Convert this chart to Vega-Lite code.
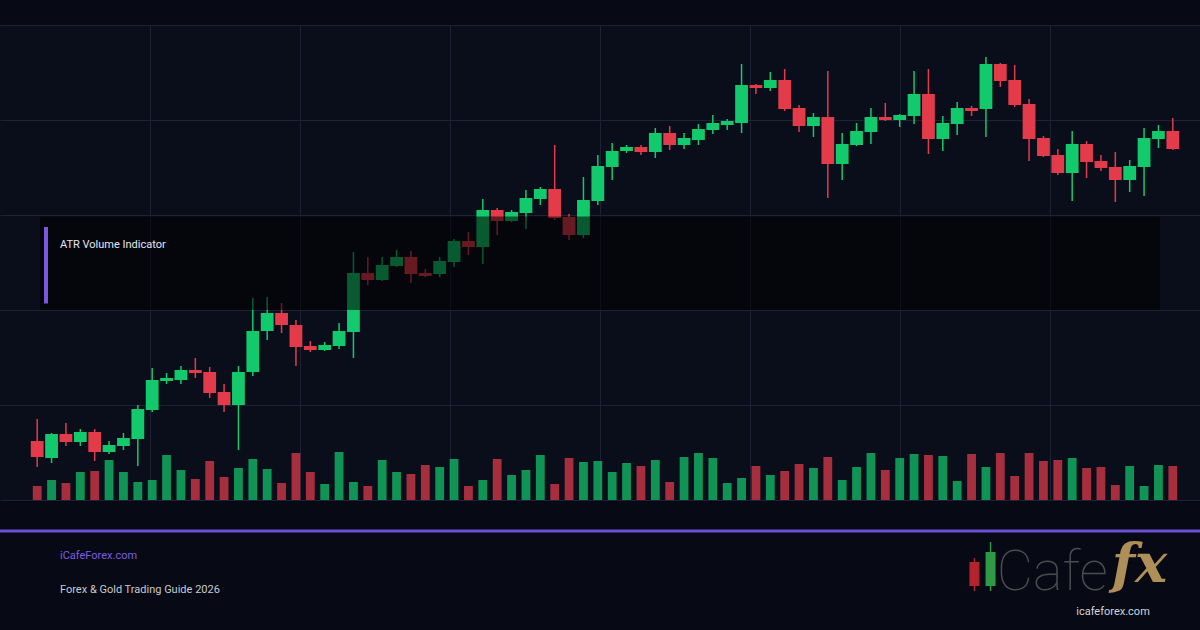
{
  "$schema": "https://vega.github.io/schema/vega-lite/v6.json",
  "width": 1200,
  "height": 475,
  "autosize": {"type": "none"},
  "padding": {"left": 0, "right": 0, "top": 25, "bottom": 130},
  "background": "#070a14",
  "config": {
    "view": {"fill": "#0a0e1b", "stroke": null},
    "font": "Roboto",
    "scale": {"continuousPadding": 0},
    "axis": {"labels": false, "ticks": false, "domain": false, "gridColor": "#1d2234", "gridWidth": 1, "gridOpacity": 1, "titleColor": "transparent"}
  },
  "datasets": {
    "candles": [
      {"i":0,"o":2011.8,"h":2016.2,"l":2006.6,"c":2008.6,"v":1400},
      {"i":1,"o":2008.4,"h":2013.4,"l":2007.4,"c":2013.2,"v":2000},
      {"i":2,"o":2013.2,"h":2015.4,"l":2010.8,"c":2011.6,"v":1700},
      {"i":3,"o":2011.6,"h":2014.2,"l":2010.8,"c":2013.6,"v":2800},
      {"i":4,"o":2013.6,"h":2014.2,"l":2007.8,"c":2009.6,"v":2900},
      {"i":5,"o":2009.6,"h":2011.8,"l":2009.2,"c":2011.0,"v":4000},
      {"i":6,"o":2010.8,"h":2013.4,"l":2010.0,"c":2012.4,"v":2800},
      {"i":7,"o":2012.2,"h":2019.0,"l":2006.8,"c":2018.2,"v":1800},
      {"i":8,"o":2018.0,"h":2026.4,"l":2017.6,"c":2024.0,"v":2000},
      {"i":9,"o":2023.8,"h":2025.4,"l":2023.2,"c":2024.4,"v":4500},
      {"i":10,"o":2024.0,"h":2026.8,"l":2023.2,"c":2026.0,"v":3000},
      {"i":11,"o":2026.0,"h":2028.4,"l":2024.4,"c":2025.4,"v":2100},
      {"i":12,"o":2025.6,"h":2026.6,"l":2020.4,"c":2021.4,"v":3900},
      {"i":13,"o":2021.6,"h":2023.2,"l":2017.6,"c":2019.0,"v":2300},
      {"i":14,"o":2019.0,"h":2026.8,"l":2010.0,"c":2025.6,"v":3200},
      {"i":15,"o":2025.6,"h":2040.4,"l":2024.8,"c":2033.8,"v":4100},
      {"i":16,"o":2033.8,"h":2040.6,"l":2032.0,"c":2037.4,"v":3100},
      {"i":17,"o":2037.4,"h":2039.4,"l":2033.4,"c":2035.0,"v":1700},
      {"i":18,"o":2035.0,"h":2036.0,"l":2026.8,"c":2030.6,"v":4700},
      {"i":19,"o":2030.8,"h":2031.8,"l":2029.6,"c":2030.0,"v":2800},
      {"i":20,"o":2030.0,"h":2031.6,"l":2029.8,"c":2031.0,"v":1600},
      {"i":21,"o":2030.8,"h":2035.4,"l":2030.2,"c":2033.8,"v":4800},
      {"i":22,"o":2033.6,"h":2049.6,"l":2028.4,"c":2045.4,"v":1800},
      {"i":23,"o":2045.4,"h":2048.6,"l":2043.0,"c":2044.0,"v":1400},
      {"i":24,"o":2044.0,"h":2048.6,"l":2043.8,"c":2047.0,"v":4000},
      {"i":25,"o":2046.8,"h":2050.0,"l":2046.6,"c":2048.6,"v":2800},
      {"i":26,"o":2048.6,"h":2049.8,"l":2043.4,"c":2045.2,"v":2600},
      {"i":27,"o":2045.4,"h":2046.2,"l":2044.6,"c":2044.8,"v":3500},
      {"i":28,"o":2045.2,"h":2048.6,"l":2044.6,"c":2047.8,"v":3300},
      {"i":29,"o":2047.6,"h":2052.2,"l":2046.6,"c":2051.8,"v":4100},
      {"i":30,"o":2051.8,"h":2053.6,"l":2049.0,"c":2050.6,"v":1400},
      {"i":31,"o":2050.6,"h":2060.2,"l":2047.2,"c":2058.0,"v":2000},
      {"i":32,"o":2058.0,"h":2058.4,"l":2053.0,"c":2055.8,"v":4100},
      {"i":33,"o":2055.8,"h":2058.0,"l":2055.6,"c":2057.6,"v":2500},
      {"i":34,"o":2057.4,"h":2062.0,"l":2054.2,"c":2060.4,"v":3000},
      {"i":35,"o":2060.2,"h":2062.6,"l":2059.0,"c":2062.2,"v":4500},
      {"i":36,"o":2062.2,"h":2071.0,"l":2056.0,"c":2056.4,"v":1600},
      {"i":37,"o":2056.6,"h":2057.2,"l":2052.0,"c":2053.0,"v":4200},
      {"i":38,"o":2053.0,"h":2064.6,"l":2052.4,"c":2060.0,"v":3800},
      {"i":39,"o":2059.8,"h":2069.0,"l":2059.0,"c":2066.8,"v":3900},
      {"i":40,"o":2066.6,"h":2071.4,"l":2064.0,"c":2069.8,"v":2800},
      {"i":41,"o":2069.8,"h":2071.0,"l":2069.4,"c":2070.6,"v":3700},
      {"i":42,"o":2070.6,"h":2071.0,"l":2069.0,"c":2069.6,"v":3400},
      {"i":43,"o":2069.6,"h":2074.4,"l":2068.4,"c":2073.4,"v":4000},
      {"i":44,"o":2073.4,"h":2074.8,"l":2070.0,"c":2071.0,"v":1800},
      {"i":45,"o":2071.0,"h":2073.4,"l":2070.2,"c":2072.4,"v":4300},
      {"i":46,"o":2072.0,"h":2075.2,"l":2071.0,"c":2074.2,"v":4700},
      {"i":47,"o":2074.0,"h":2077.0,"l":2073.2,"c":2075.4,"v":4200},
      {"i":48,"o":2075.0,"h":2076.2,"l":2074.0,"c":2075.8,"v":1700},
      {"i":49,"o":2075.4,"h":2087.2,"l":2073.4,"c":2083.0,"v":2200},
      {"i":50,"o":2083.0,"h":2083.2,"l":2081.2,"c":2082.4,"v":3400},
      {"i":51,"o":2082.4,"h":2085.6,"l":2081.8,"c":2084.0,"v":2500},
      {"i":52,"o":2084.0,"h":2086.2,"l":2077.8,"c":2078.2,"v":2900},
      {"i":53,"o":2078.4,"h":2079.0,"l":2073.6,"c":2074.8,"v":3600},
      {"i":54,"o":2074.8,"h":2077.4,"l":2072.6,"c":2076.6,"v":3200},
      {"i":55,"o":2076.6,"h":2085.8,"l":2060.4,"c":2067.2,"v":4300},
      {"i":56,"o":2067.2,"h":2073.4,"l":2064.0,"c":2071.2,"v":2000},
      {"i":57,"o":2071.0,"h":2075.4,"l":2070.8,"c":2073.8,"v":3300},
      {"i":58,"o":2073.6,"h":2078.4,"l":2071.2,"c":2076.6,"v":4700},
      {"i":59,"o":2076.6,"h":2079.4,"l":2075.8,"c":2076.0,"v":3000},
      {"i":60,"o":2076.0,"h":2077.2,"l":2074.6,"c":2077.0,"v":4200},
      {"i":61,"o":2076.8,"h":2085.8,"l":2075.2,"c":2081.2,"v":4600},
      {"i":62,"o":2081.2,"h":2086.2,"l":2069.2,"c":2072.2,"v":4500},
      {"i":63,"o":2072.2,"h":2076.8,"l":2069.8,"c":2075.4,"v":4400},
      {"i":64,"o":2075.2,"h":2079.6,"l":2073.0,"c":2078.4,"v":1900},
      {"i":65,"o":2078.4,"h":2078.8,"l":2076.8,"c":2077.8,"v":4600},
      {"i":66,"o":2078.2,"h":2088.6,"l":2072.6,"c":2087.2,"v":3300},
      {"i":67,"o":2087.2,"h":2087.4,"l":2082.6,"c":2083.8,"v":4700},
      {"i":68,"o":2084.0,"h":2087.0,"l":2078.6,"c":2079.0,"v":2400},
      {"i":69,"o":2079.2,"h":2080.2,"l":2067.8,"c":2072.2,"v":4700},
      {"i":70,"o":2072.4,"h":2072.8,"l":2068.6,"c":2068.8,"v":3900},
      {"i":71,"o":2069.0,"h":2070.2,"l":2065.0,"c":2065.4,"v":4000},
      {"i":72,"o":2065.4,"h":2073.8,"l":2059.8,"c":2071.2,"v":4200},
      {"i":73,"o":2071.2,"h":2071.8,"l":2064.4,"c":2067.6,"v":3200},
      {"i":74,"o":2067.8,"h":2069.0,"l":2065.8,"c":2066.4,"v":3300},
      {"i":75,"o":2066.6,"h":2069.6,"l":2059.6,"c":2064.0,"v":1500},
      {"i":76,"o":2064.0,"h":2068.0,"l":2061.6,"c":2066.8,"v":3400},
      {"i":77,"o":2066.6,"h":2074.4,"l":2060.8,"c":2072.4,"v":1400},
      {"i":78,"o":2072.2,"h":2075.0,"l":2070.4,"c":2073.8,"v":3500},
      {"i":79,"o":2073.8,"h":2076.4,"l":2070.0,"c":2070.2,"v":3400}
    ],
    "logo": [
      {"i":65.2,"o":1987.6,"h":1988.4,"l":1981.8,"c":1982.8,"col":"#b3232b"},
      {"i":66.32,"o":1982.8,"h":1991.6,"l":1981.8,"c":1989.6,"col":"#2f9a45"}
    ]
  },
  "layer": [
    {
      "layer": [
        {
          "data": {"name": "candles"},
          "mark": {"type": "rule", "strokeWidth": 1.5},
          "encoding": {
            "x": {"field": "i", "type": "quantitative", "title": null,
                  "scale": {"domain": [-2.58696, 80.8913], "nice": false, "zero": false, "padding": 0},
                  "axis": {"grid": true, "values": [7.8478, 18.2826, 28.7174, 39.1522, 49.587, 60.0217, 70.4565]}},
            "y": {"field": "l", "type": "quantitative", "title": null,
                  "scale": {"domain": [2000, 2095], "nice": false, "zero": false, "padding": 0},
                  "axis": {"grid": true, "values": [2000, 2019, 2038, 2057, 2076, 2095]}},
            "y2": {"field": "h"},
            "color": {"condition": {"test": "datum.c >= datum.o", "value": "#12c96c"}, "value": "#e43b4b"}
          }
        },
        {
          "data": {"name": "candles"},
          "mark": {"type": "bar", "width": 12.8},
          "encoding": {
            "x": {"field": "i", "type": "quantitative", "title": null},
            "y": {"field": "o", "type": "quantitative", "title": null},
            "y2": {"field": "c"},
            "color": {"condition": {"test": "datum.c >= datum.o", "value": "#12c96c"}, "value": "#e43b4b"}
          }
        },
        {
          "data": {"values": [{}]},
          "mark": {"type": "rect", "color": "#000000", "opacity": 0.55},
          "encoding": {
            "x": {"datum": 0.196, "type": "quantitative"},
            "x2": {"datum": 78.109},
            "y": {"datum": 2056.7, "type": "quantitative"},
            "y2": {"datum": 2038.0}
          }
        },
        {
          "data": {"values": [{}]},
          "mark": {"type": "rect", "color": "#7b57e0"},
          "encoding": {
            "x": {"datum": 0.474, "type": "quantitative"},
            "x2": {"datum": 0.752},
            "y": {"datum": 2054.6, "type": "quantitative"},
            "y2": {"datum": 2039.3}
          }
        },
        {
          "data": {"values": [{}]},
          "mark": {"type": "text", "align": "left", "baseline": "middle", "fontSize": 11, "color": "#e6e7ee", "font": "Roboto"},
          "encoding": {
            "x": {"datum": 1.587, "type": "quantitative"},
            "y": {"datum": 2051.0, "type": "quantitative"},
            "text": {"value": "ATR Volume Indicator"}
          }
        },
        {
          "data": {"values": [{}]},
          "mark": {"type": "rule", "color": "#6d4fd4", "strokeWidth": 3},
          "encoding": {
            "y": {"datum": 1993.8, "type": "quantitative"}
          }
        },
        {
          "data": {"values": [{}]},
          "mark": {"type": "text", "align": "left", "baseline": "middle", "fontSize": 11, "color": "#7c5ee2", "font": "Roboto"},
          "encoding": {
            "x": {"datum": 1.587, "type": "quantitative"},
            "y": {"datum": 1988.8, "type": "quantitative"},
            "text": {"value": "iCafeForex.com"}
          }
        },
        {
          "data": {"values": [{}]},
          "mark": {"type": "text", "align": "left", "baseline": "middle", "fontSize": 11, "color": "#c8c9d2", "font": "Roboto"},
          "encoding": {
            "x": {"datum": 1.587, "type": "quantitative"},
            "y": {"datum": 1982.0, "type": "quantitative"},
            "text": {"value": "Forex & Gold Trading Guide 2026"}
          }
        },
        {
          "data": {"name": "logo"},
          "mark": {"type": "rule", "strokeWidth": 1.5},
          "encoding": {
            "x": {"field": "i", "type": "quantitative", "title": null},
            "y": {"field": "l", "type": "quantitative", "title": null},
            "y2": {"field": "h"},
            "color": {"field": "col", "type": "nominal", "scale": null}
          }
        },
        {
          "data": {"name": "logo"},
          "mark": {"type": "bar", "width": 10},
          "encoding": {
            "x": {"field": "i", "type": "quantitative", "title": null},
            "y": {"field": "o", "type": "quantitative", "title": null},
            "y2": {"field": "c"},
            "color": {"field": "col", "type": "nominal", "scale": null}
          }
        },
        {
          "data": {"values": [{}]},
          "mark": {"type": "text", "align": "left", "baseline": "alphabetic", "fontSize": 56, "fontWeight": 100, "color": "#4b4c53", "font": "Roboto"},
          "encoding": {
            "x": {"datum": 66.75, "type": "quantitative"},
            "y": {"datum": 1982.0, "type": "quantitative"},
            "text": {"value": "Cafe"}
          }
        },
        {
          "data": {"values": [{}]},
          "mark": {"type": "text", "align": "left", "baseline": "alphabetic", "fontSize": 54, "fontWeight": "bold", "fontStyle": "italic", "color": "#ad8f57", "font": "DejaVu Serif"},
          "encoding": {
            "x": {"datum": 74.75, "type": "quantitative"},
            "y": {"datum": 1983.6, "type": "quantitative"},
            "text": {"value": "fx"}
          }
        },
        {
          "data": {"values": [{}]},
          "mark": {"type": "text", "align": "center", "baseline": "middle", "fontSize": 11, "color": "#d4d4da", "font": "Roboto"},
          "encoding": {
            "x": {"datum": 74.84, "type": "quantitative"},
            "y": {"datum": 1977.7, "type": "quantitative"},
            "text": {"value": "icafeforex.com"}
          }
        }
      ]
    },
    {
      "data": {"name": "candles"},
      "mark": {"type": "bar", "width": 8.8, "opacity": 0.72},
      "encoding": {
        "x": {"field": "i", "type": "quantitative", "title": null},
        "y": {"field": "v", "type": "quantitative", "title": null, "scale": {"domain": [0, 47500], "nice": false, "padding": 0}, "axis": null},
        "color": {"condition": {"test": "datum.c >= datum.o", "value": "#12c96c"}, "value": "#e43b4b"}
      }
    }
  ],
  "resolve": {"scale": {"y": "independent"}}
}
